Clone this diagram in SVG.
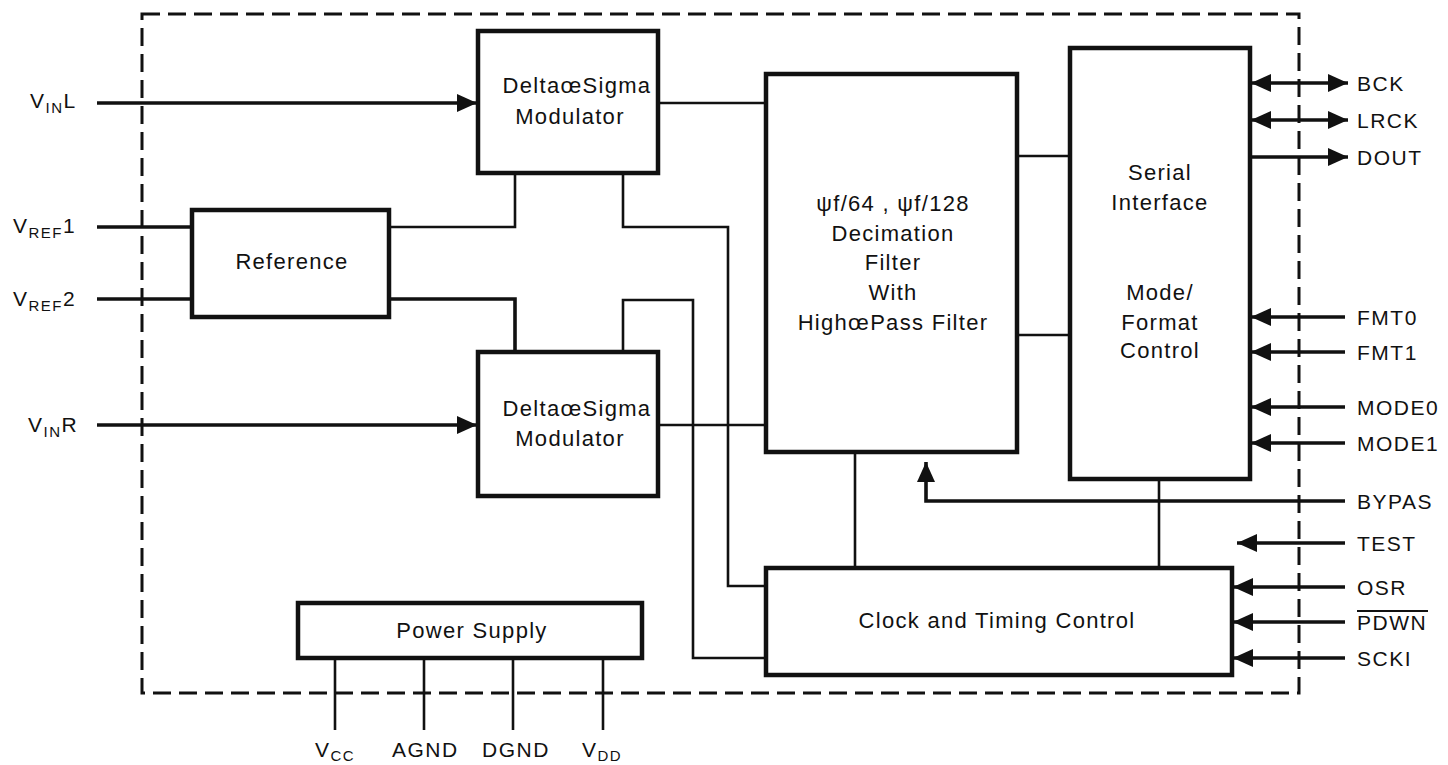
<svg xmlns="http://www.w3.org/2000/svg" width="1448" height="765" viewBox="0 0 1448 765">
<style>
  .box { fill: #fff; stroke: #111; stroke-width: 4.5; }
  .t { font-family: "Liberation Sans", Arial, sans-serif; font-size: 22px; letter-spacing: 1.3px; fill: #111; text-anchor: middle; }
  .pin { font-family: "Liberation Sans", Arial, sans-serif; font-size: 21px; letter-spacing: 1.5px; fill: #111; }
  .sub { font-size: 15px; }
  .w { fill: none; stroke: #111; stroke-width: 2.6; }
  .p { fill: none; stroke: #111; stroke-width: 3.6; }
  .dash { fill: none; stroke: #111; stroke-width: 3; stroke-dasharray: 18 8; }
</style>
<defs>
  <marker id="ah" markerUnits="userSpaceOnUse" markerWidth="20" markerHeight="20" refX="20" refY="10" orient="auto-start-reverse">
    <path d="M0,1 L20,10 L0,19 z" fill="#111"/>
  </marker>
</defs>
<rect width="1448" height="765" fill="#fff"/>
<rect class="dash" x="142" y="14" width="1157" height="679"/>

<g id="connectors">
  <path class="p" d="M97,103 H477" marker-end="url(#ah)"/>
  <path class="p" d="M97,227 H192"/>
  <path class="p" d="M97,299 H192"/>
  <path class="p" d="M97,425 H477" marker-end="url(#ah)"/>
  <path class="w" d="M389,227 H515 V173"/>
  <path class="p" d="M389,299 H515 V352"/>
  <path class="w" d="M658,103 H766"/>
  <path class="w" d="M658,425 H766"/>
  <path class="w" d="M623,173 V227 H728 V586 H766"/>
  <path class="w" d="M623,352 V300 H693 V658 H766"/>
  <path class="w" d="M1017,156 H1070"/>
  <path class="w" d="M1017,335 H1070"/>
  <path class="w" d="M855,452 V568"/>
  <path class="w" d="M1159,479 V568"/>
  <path class="p" d="M1345,501 H926 V462" marker-end="url(#ah)"/>
  <path class="p" d="M1251,83 H1348" marker-start="url(#ah)" marker-end="url(#ah)"/>
  <path class="p" d="M1251,120 H1348" marker-start="url(#ah)" marker-end="url(#ah)"/>
  <path class="p" d="M1251,157 H1348" marker-end="url(#ah)"/>
  <path class="p" d="M1345,317 H1251" marker-end="url(#ah)"/>
  <path class="p" d="M1345,352 H1251" marker-end="url(#ah)"/>
  <path class="p" d="M1345,407 H1251" marker-end="url(#ah)"/>
  <path class="p" d="M1345,443 H1251" marker-end="url(#ah)"/>
  <path class="p" d="M1345,543 H1237" marker-end="url(#ah)"/>
  <path class="p" d="M1345,587 H1233" marker-end="url(#ah)"/>
  <path class="p" d="M1345,622 H1233" marker-end="url(#ah)"/>
  <path class="p" d="M1345,658 H1233" marker-end="url(#ah)"/>
  <path class="w" d="M335,658 V730"/>
  <path class="w" d="M424,658 V730"/>
  <path class="w" d="M513,658 V730"/>
  <path class="w" d="M603,658 V730"/>
</g>

<g id="mod-top">
  <rect class="box" x="478" y="31" width="180" height="142"/>
  <text class="t" x="577" y="93">DeltaœSigma</text>
  <text class="t" x="570" y="124">Modulator</text>
</g>
<g id="mod-bottom">
  <rect class="box" x="478" y="352" width="180" height="144"/>
  <text class="t" x="577" y="416">DeltaœSigma</text>
  <text class="t" x="570" y="446">Modulator</text>
</g>
<g id="reference">
  <rect class="box" x="192" y="210" width="197" height="107"/>
  <text class="t" x="292" y="269">Reference</text>
</g>
<g id="decimation">
  <rect class="box" x="766" y="74" width="251" height="378"/>
  <text class="t" x="893" y="211">ψf/64 , ψf/128</text>
  <text class="t" x="893" y="241">Decimation</text>
  <text class="t" x="893" y="270">Filter</text>
  <text class="t" x="893" y="300">With</text>
  <text class="t" x="893" y="330">HighœPass Filter</text>
</g>
<g id="serial">
  <rect class="box" x="1070" y="48" width="180" height="431"/>
  <text class="t" x="1160" y="180">Serial</text>
  <text class="t" x="1160" y="210">Interface</text>
  <text class="t" x="1160" y="300">Mode/</text>
  <text class="t" x="1160" y="330">Format</text>
  <text class="t" x="1160" y="358">Control</text>
</g>
<g id="clock">
  <rect class="box" x="766" y="568" width="466" height="107"/>
  <text class="t" x="997" y="628">Clock and Timing Control</text>
</g>
<g id="power">
  <rect class="box" x="298" y="603" width="344" height="55"/>
  <text class="t" x="472" y="638">Power Supply</text>
</g>

<g id="labels-left">
  <text class="pin" x="30" y="108">V<tspan class="sub" dy="5">IN</tspan><tspan dy="-5">L</tspan></text>
  <text class="pin" x="13" y="233">V<tspan class="sub" dy="5">REF</tspan><tspan dy="-5">1</tspan></text>
  <text class="pin" x="13" y="306">V<tspan class="sub" dy="5">REF</tspan><tspan dy="-5">2</tspan></text>
  <text class="pin" x="28" y="432">V<tspan class="sub" dy="5">IN</tspan><tspan dy="-5">R</tspan></text>
</g>
<g id="labels-bottom">
  <text class="pin" x="315" y="757">V<tspan class="sub" dy="4">CC</tspan></text>
  <text class="pin" x="392" y="757">AGND</text>
  <text class="pin" x="482" y="757">DGND</text>
  <text class="pin" x="582" y="757">V<tspan class="sub" dy="4">DD</tspan></text>
</g>
<g id="labels-right">
  <text class="pin" x="1357" y="91">BCK</text>
  <text class="pin" x="1357" y="128">LRCK</text>
  <text class="pin" x="1357" y="165">DOUT</text>
  <text class="pin" x="1357" y="325">FMT0</text>
  <text class="pin" x="1357" y="360">FMT1</text>
  <text class="pin" x="1357" y="415">MODE0</text>
  <text class="pin" x="1357" y="451">MODE1</text>
  <text class="pin" x="1357" y="509">BYPAS</text>
  <text class="pin" x="1357" y="551">TEST</text>
  <text class="pin" x="1357" y="595">OSR</text>
  <text class="pin" x="1357" y="630">PDWN</text>
  <line x1="1357" y1="611" x2="1428" y2="611" stroke="#111" stroke-width="1.8"/>
  <text class="pin" x="1357" y="666">SCKI</text>
</g>
</svg>
